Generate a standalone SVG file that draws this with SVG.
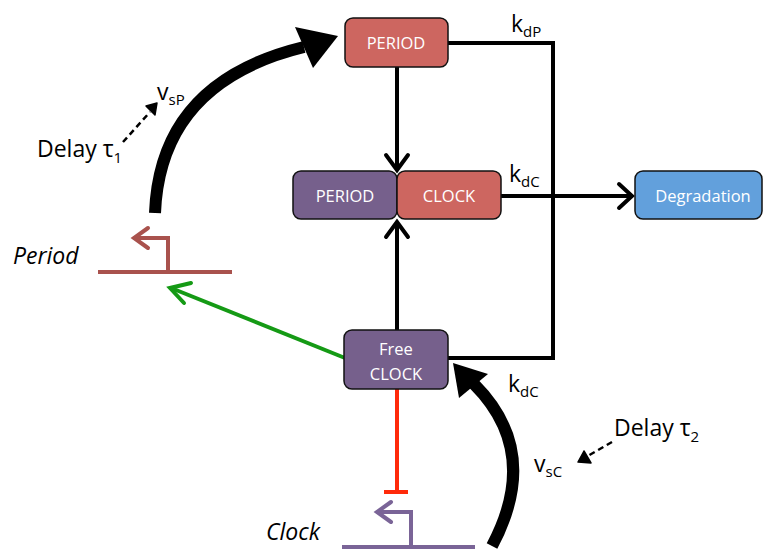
<svg xmlns="http://www.w3.org/2000/svg" width="764" height="550" viewBox="0 0 764 550">
  <style>
    .box { stroke: #111; stroke-width: 1.5; }
    .red { fill: #CD6660; }
    .purple { fill: #76608C; }
    .blue { fill: #62A0DC; }
    .lbl { font-family: "Open Sans", "Liberation Sans", sans-serif; font-size: 16.5px; fill: #fff; text-anchor: middle; }
    .txt { font-family: "Open Sans", "Liberation Sans", sans-serif; font-size: 23px; fill: #000; }
    .sub { font-size: 15px; }
    .gene { font-family: "Open Sans", "Liberation Sans", sans-serif; font-size: 23px; font-style: italic; fill: #000; }
    .line { fill: none; stroke: #000; stroke-width: 4; }
    .head { fill: none; stroke: #000; stroke-width: 4; stroke-linecap: round; stroke-linejoin: miter; }
  </style>

  <!-- connectors -->
  <g id="connectors">
    <!-- degradation loop of PERIOD and free CLOCK -->
    <polyline class="line" points="448,43 553,43 553,358 448,358"/>
    <!-- PERIOD joins complex -->
    <line class="line" x1="397" y1="67" x2="397" y2="170"/>
    <polyline class="head" points="386,155 397,170 408,155"/>
    <!-- free CLOCK joins complex -->
    <line class="line" x1="397" y1="330" x2="397" y2="222"/>
    <polyline class="head" points="386,237 397,222 408,237"/>
    <!-- complex degradation -->
    <line class="line" x1="501" y1="196" x2="632" y2="196"/>
    <polyline class="head" points="619,184 632,196 619,208"/>

    <!-- synthesis of PERIOD (thick curved arrow) -->
    <path d="M155,213 Q160,82 304,47" fill="none" stroke="#000" stroke-width="12"/>
    <polygon points="338,36 295,27 313,68" fill="#000"/>

    <!-- synthesis of CLOCK (thick curved arrow) -->
    <path d="M492,546 Q542,452 474,384" fill="none" stroke="#000" stroke-width="12"/>
    <polygon points="453,363 488,374 459,398" fill="#000"/>

    <!-- free CLOCK activates Period -->
    <line x1="345" y1="358" x2="171" y2="288" stroke="#159A15" stroke-width="4"/>
    <polyline points="191,283 170,288 184,303" fill="none" stroke="#159A15" stroke-width="4" stroke-linecap="round"/>

    <!-- free CLOCK represses Clock -->
    <line x1="397" y1="389" x2="397" y2="492" stroke="#FF2A0A" stroke-width="4"/>
    <line x1="384" y1="492" x2="408" y2="492" stroke="#FF2A0A" stroke-width="4"/>

    <!-- delay pointers -->
    <line x1="123" y1="142" x2="150" y2="112" stroke="#000" stroke-width="2.5" stroke-dasharray="6,4"/>
    <polygon points="146,106 157,103 155,115" fill="#000" stroke="#000" stroke-width="1.5" stroke-linejoin="round"/>
    <line x1="612" y1="442" x2="586" y2="457" stroke="#000" stroke-width="2.5" stroke-dasharray="6,4"/>
    <polygon points="584,451 578,462 591,463" fill="#000" stroke="#000" stroke-width="1.5" stroke-linejoin="round"/>
  </g>

  <!-- genes -->
  <g id="period-gene">
    <line x1="98" y1="272" x2="232" y2="272" stroke="#A9524D" stroke-width="4"/>
    <polyline points="168,272 168,238 134,238" fill="none" stroke="#A9524D" stroke-width="4"/>
    <polyline points="148,228 134,238 148,248" fill="none" stroke="#A9524D" stroke-width="4" stroke-linecap="round"/>
    <text class="gene" x="13" y="264">Period</text>
  </g>
  <g id="clock-gene">
    <line x1="342" y1="547" x2="475" y2="547" stroke="#7A6497" stroke-width="4"/>
    <polyline points="411,547 411,512 377,512" fill="none" stroke="#7A6497" stroke-width="4"/>
    <polyline points="391,502 377,512 391,522" fill="none" stroke="#7A6497" stroke-width="4" stroke-linecap="round"/>
    <text class="gene" x="266" y="540">Clock</text>
  </g>

  <!-- protein nodes -->
  <g id="period">
    <rect class="box red" x="345" y="18" width="103" height="49" rx="8"/>
    <text class="lbl" x="396" y="49">PERIOD</text>
  </g>
  <g id="complex-period">
    <rect class="box purple" x="293" y="171" width="104" height="48" rx="8"/>
    <text class="lbl" x="345" y="202">PERIOD</text>
  </g>
  <g id="complex-clock">
    <rect class="box red" x="397" y="171" width="104" height="48" rx="8"/>
    <text class="lbl" x="449" y="202">CLOCK</text>
  </g>
  <g id="degradation">
    <rect class="box blue" x="635" y="171" width="127" height="48" rx="8"/>
    <text class="lbl" x="703" y="202">Degradation</text>
  </g>
  <g id="free-clock">
    <rect class="box purple" x="344" y="330" width="104" height="59" rx="8"/>
    <text class="lbl" x="396" y="355">Free</text>
    <text class="lbl" x="396" y="380">CLOCK</text>
  </g>

  <!-- rate labels -->
  <g id="labels">
    <text class="txt" x="511" y="32">k<tspan class="sub" dy="5">dP</tspan></text>
    <text class="txt" x="509" y="182">k<tspan class="sub" dy="5">dC</tspan></text>
    <text class="txt" x="508" y="392">k<tspan class="sub" dy="5">dC</tspan></text>
    <text class="txt" x="157" y="100">v<tspan class="sub" dy="5">sP</tspan></text>
    <text class="txt" x="534" y="472">v<tspan class="sub" dy="5">sC</tspan></text>
    <text class="txt" x="37" y="157">Delay τ<tspan class="sub" dy="6">1</tspan></text>
    <text class="txt" x="614" y="436">Delay τ<tspan class="sub" dy="6">2</tspan></text>
  </g>
</svg>
